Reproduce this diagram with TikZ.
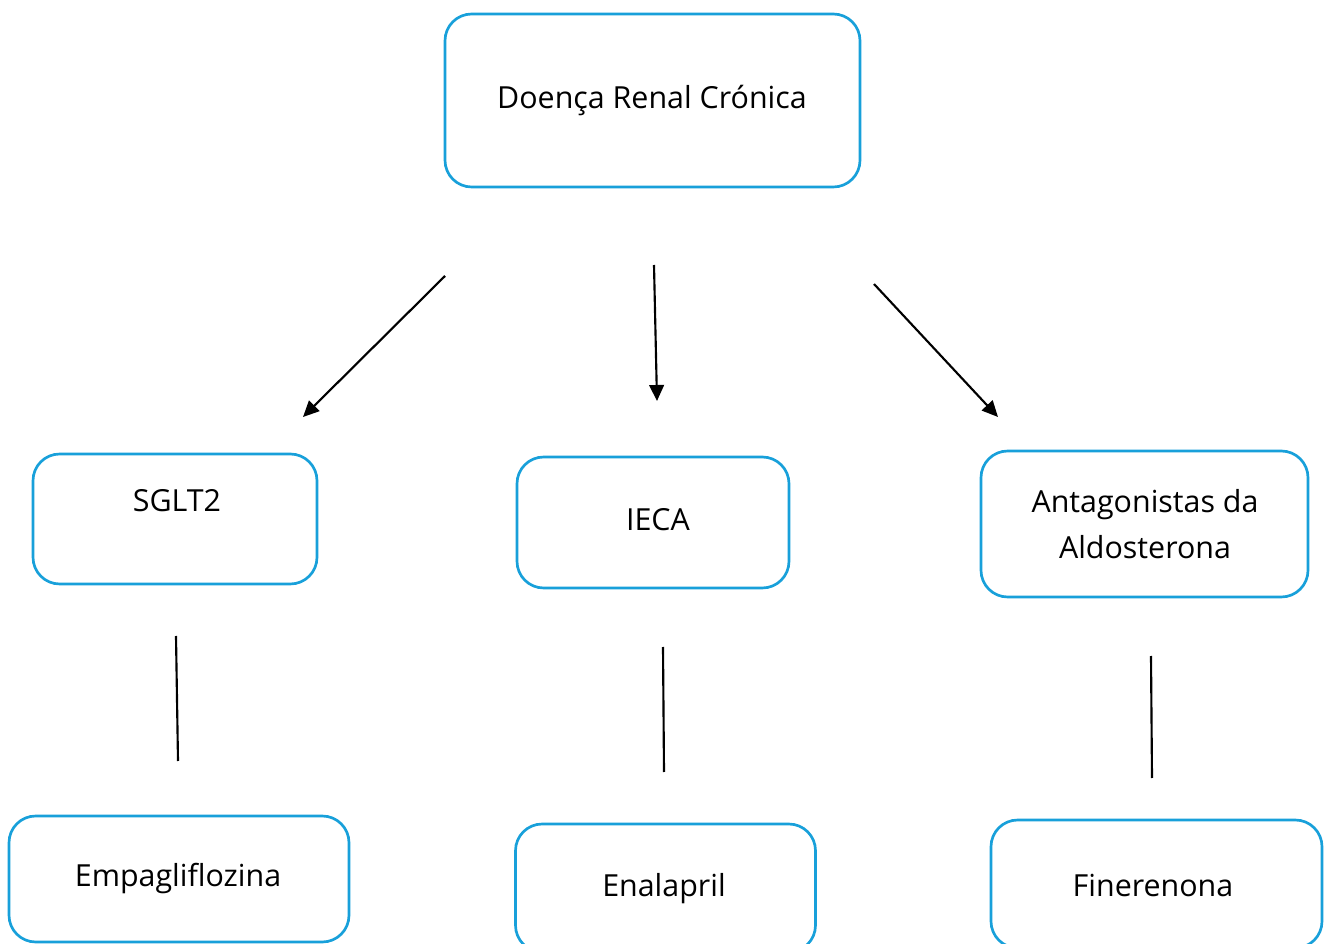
\documentclass[tikz,border=0pt]{standalone}
\usepackage{fontspec}
\setmainfont{Open Sans}
\usetikzlibrary{arrows.meta}
\definecolor{boxblue}{RGB}{24,160,218}
\begin{document}
\begin{tikzpicture}[x=0.75pt,y=-0.75pt,
    box/.style={draw=boxblue, line width=2pt, rounded corners=20pt, fill=white, inner sep=0pt},
    lbl/.style={font=\fontsize{22.8}{28}\selectfont, align=center},
    link/.style={line width=1.6pt},
    arrow/.style={link, -{Triangle[length=12pt,width=11pt]}}]

    \useasboundingbox (0,0) rectangle (1325,944);

    % Boxes
    \node[box, minimum width=311.25pt, minimum height=129.75pt] (dcr) at (652.5,100.5) {};
    \node[box, minimum width=213pt, minimum height=97.5pt] (sglt) at (175,519) {};
    \node[box, minimum width=204pt, minimum height=98.25pt] (ieca) at (653,522.5) {};
    \node[box, minimum width=245.25pt, minimum height=109.5pt] (aldo) at (1144.5,524) {};
    \node[box, minimum width=255pt, minimum height=94.5pt] (empa) at (179,879) {};
    \node[box, minimum width=225pt, minimum height=96pt] (enal) at (665.5,888) {};
    \node[box, minimum width=248.25pt, minimum height=96pt] (fine) at (1156.5,884) {};

    % Texts
    \node[lbl] (tdcr) at (652,101) {Doença Renal Crónica};
    \node[lbl] (tsglt) at (177,501) {SGLT2};
    \node[lbl] (tieca) at (658,520) {IECA};
    \node[lbl] (taldo) at (1145,524) {Antagonistas da\\[6pt]Aldosterona};
    \node[lbl] (tempa) at (178,879) {Empagliflozina};
    \node[lbl] (tenal) at (664,889) {Enalapril};
    \node[lbl] (tfine) at (1153,885) {Finerenona};

    % Connector ends
    \coordinate (a1) at (445,276);
    \coordinate (a1e) at (303,417);
    \coordinate (a2) at (654,265);
    \coordinate (a2e) at (657,401);
    \coordinate (a3) at (874,284);
    \coordinate (a3e) at (998,417);
    \coordinate (l1) at (176,636);
    \coordinate (l1e) at (178,761);
    \coordinate (l2) at (663,647);
    \coordinate (l2e) at (664,772);
    \coordinate (l3) at (1151,656);
    \coordinate (l3e) at (1152,778);

    % Arrows
    \draw[arrow] (a1) -- (a1e);
    \draw[arrow] (a2) -- (a2e);
    \draw[arrow] (a3) -- (a3e);

    % Lines
    \draw[link] (l1) -- (l1e);
    \draw[link] (l2) -- (l2e);
    \draw[link] (l3) -- (l3e);

\end{tikzpicture}
\end{document}
